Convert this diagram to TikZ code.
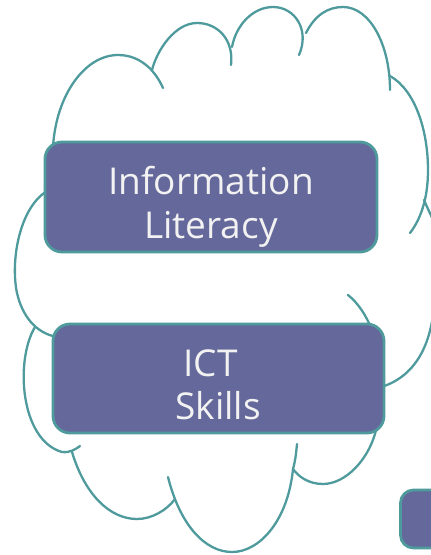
\documentclass[tikz,border=0pt]{standalone}
\usepackage{fontspec}
\setmainfont{Open Sans}
\definecolor{boxfill}{HTML}{65689A}
\definecolor{teal}{HTML}{4E9A9C}
\definecolor{txtcol}{HTML}{F2F2F2}
\tikzset{
  cloudline/.style={draw=teal, line width=2.3pt, line cap=round},
  boxnode/.style={draw=teal, fill=boxfill, line width=2.8pt, rounded corners=17pt, inner sep=0pt},
  txt/.style={text=txtcol, font=\fontsize{37}{44}\selectfont, inner sep=0pt, anchor=base}
}
\begin{document}
\begin{tikzpicture}[x=1pt, y=-1pt]
\useasboundingbox (0,0) rectangle (431,555);
% cloud strokes
\draw[cloudline] (53,147) .. controls (56,95) and (85,55) .. (118,55) .. controls (140,55) and (155,70) .. (163,88);
\draw[cloudline] (152,70) .. controls (157,50) and (175,23) .. (197,23) .. controls (218,23) and (234,40) .. (231,65);
\draw[cloudline] (232,47) .. controls (236,25) and (253,7) .. (273,7) .. controls (295,7) and (310,30) .. (299,55);
\draw[cloudline] (306,33) .. controls (315,15) and (328,7) .. (343,7) .. controls (370,7) and (390,45) .. (390,90);
\draw[cloudline] (390,76) .. controls (415,90) and (428,130) .. (428,170) .. controls (428,200) and (420,220) .. (410,233);
\draw[cloudline] (424,200) .. controls (427,207) and (430,213) .. (433,220);
\draw[cloudline] (435,290) .. controls (434,345) and (415,378) .. (378,388);
\draw[cloudline] (348,295) .. controls (358,303) and (366,315) .. (372,330);
\draw[cloudline] (377,426) .. controls (370,460) and (345,484) .. (323,484) .. controls (308,484) and (298,476) .. (293,469);
\draw[cloudline] (297,444) .. controls (296,455) and (295,462) .. (293,469) .. controls (288,520) and (260,552) .. (232,552) .. controls (205,552) and (180,525) .. (168,477);
\draw[cloudline] (72,452) .. controls (85,495) and (110,519) .. (137,519) .. controls (152,519) and (167,510) .. (175,499);
\draw[cloudline] (35,327) .. controls (15,360) and (20,440) .. (62,452) .. controls (70,453) and (76,449) .. (80,446);
\draw[cloudline] (49,190) .. controls (20,205) and (10,260) .. (17,293) .. controls (22,315) and (35,333) .. (57,337);
% boxes
\node[boxnode, minimum width=332pt, minimum height=110pt] (b1) at (211,197) {};
\node[boxnode, minimum width=331pt, minimum height=109pt] (b2) at (218.5,378.5) {};
\node[boxnode, minimum width=80pt, minimum height=58pt, rounded corners=13pt] (b3) at (440.5,519) {};
% texts
\node[txt] (t1) at (211,194) {Information};
\node[txt] (t2) at (211,238) {Literacy};
\node[txt] (t3) at (210.5,376) {ICT};
\node[txt] (t4) at (218,419) {Skills};
\end{tikzpicture}
\end{document}
